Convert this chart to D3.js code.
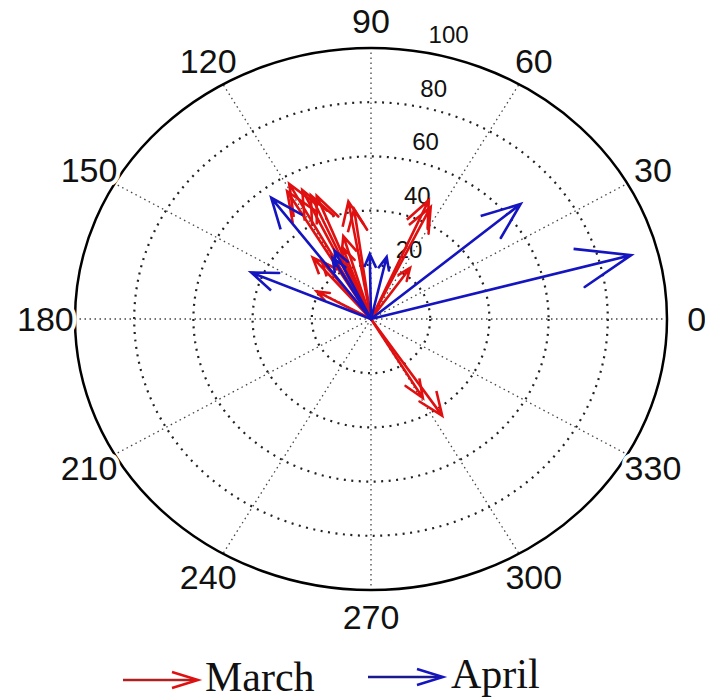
<!DOCTYPE html>
<html>
<head>
<meta charset="utf-8">
<script src="https://cdn.jsdelivr.net/npm/d3@7"></script>
<style>
  html, body { margin: 0; padding: 0; background: #fff; }
  svg { display: block; }
</style>
</head>
<body>
<div id="chart"></div>
<script>
// compass data: [angle in degrees, magnitude]
const marchAngles = [119, 121, 116, 112, 114, 100, 98, 107, 110, 131, 128, 151, 55, 66, 64, 304, 301];
const marchValues = [57, 55, 53, 49, 50, 44, 41, 32, 28, 30, 27, 21, 23, 48, 46, 43, 34];
const aprilAngles = [15, 40, 157, 127, 116, 120, 91, 77];
const aprilValues = [91, 66, 44, 56, 28, 26, 24, 23.5];

const ringTicks = [20, 40, 60, 80];
const rhoLabels = [20, 40, 60, 80, 100];
const angleTicks = [0, 30, 60, 90, 120, 150, 180, 210, 240, 270, 300, 330];
const rMax = 100;

const W = 705, H = 700;
const cx = 371, cy = 319, rx = 296, ry = 271;

const svg = d3.select("#chart").append("svg")
    .attr("width", W)
    .attr("height", H);

// scales (the picture is a bit stretched sideways)
const x = d3.scaleLinear().domain([-rMax, rMax]).range([cx - rx, cx + rx]);
const y = d3.scaleLinear().domain([-rMax, rMax]).range([cy + ry, cy - ry]);

const rad = d => d * Math.PI / 180;

// dotted rings
svg.selectAll(".ring")
    .data(ringTicks)
    .enter().append("ellipse")
    .attr("class", "ring")
    .attr("cx", x(0))
    .attr("cy", y(0))
    .attr("rx", d => x(d) - x(0))
    .attr("ry", d => y(0) - y(d))
    .attr("fill", "none")
    .attr("stroke", "#222")
    .attr("stroke-width", 2.2)
    .attr("stroke-dasharray", "2,5.5");

// dotted spokes every 30 degrees
svg.selectAll(".spoke")
    .data(angleTicks)
    .enter().append("line")
    .attr("class", "spoke")
    .attr("x1", x(0))
    .attr("y1", y(0))
    .attr("x2", d => x(rMax * Math.cos(rad(d))))
    .attr("y2", d => y(rMax * Math.sin(rad(d))))
    .attr("stroke", "#444")
    .attr("stroke-width", 1.3)
    .attr("stroke-dasharray", "1.5,3.5");

// solid outer circle
svg.append("ellipse")
    .attr("cx", x(0))
    .attr("cy", y(0))
    .attr("rx", x(rMax) - x(0))
    .attr("ry", y(0) - y(rMax))
    .attr("fill", "none")
    .attr("stroke", "#000")
    .attr("stroke-width", 2.5);

// radius labels along ~82 deg
const c82 = Math.cos(rad(82)), s82 = Math.sin(rad(82));
svg.selectAll(".rho")
    .data(rhoLabels)
    .enter().append("text")
    .attr("class", "rho")
    .attr("x", d => x((d + 1) * c82) + 16)
    .attr("y", d => y((d + 1) * s82) - 5)
    .attr("font-family", "Liberation Sans, Arial, sans-serif")
    .attr("font-size", 24)
    .attr("fill", "#111")
    .text(d => d);

// angle labels
svg.selectAll(".ang")
    .data(angleTicks)
    .enter().append("text")
    .attr("class", "ang")
    .attr("x", d => x(1.1 * rMax * Math.cos(rad(d))))
    .attr("y", d => y(1.1 * rMax * Math.sin(rad(d))))
    .attr("text-anchor", "middle")
    .attr("dominant-baseline", "central")
    .attr("font-family", "Liberation Sans, Arial, sans-serif")
    .attr("font-size", 34)
    .attr("fill", "#111")
    .attr("stroke", "#fff")
    .attr("stroke-width", 8)
    .attr("paint-order", "stroke")
    .text(d => d);

// compass arrows, MATLAB style head: 0 -> tip -> (.8,.08) -> tip -> (.8,-.08)
const line = d3.line().x(p => x(p[0])).y(p => y(p[1]));
function arrowPoints(a, r) {
    const c = Math.cos(rad(a)), s = Math.sin(rad(a));
    const tip = [r * c, r * s];
    const h1 = [0.8 * r * c - 0.08 * r * s, 0.8 * r * s + 0.08 * r * c];
    const h2 = [0.8 * r * c + 0.08 * r * s, 0.8 * r * s - 0.08 * r * c];
    return [[0, 0], tip, h1, tip, h2];
}

function drawSeries(angles, values, color, cls) {
    const data = angles.map((a, i) => ({ a: a, r: values[i] }));
    svg.selectAll("." + cls)
        .data(data)
        .enter().append("path")
        .attr("class", cls)
        .attr("d", d => line(arrowPoints(d.a, d.r)))
        .attr("fill", "none")
        .attr("stroke", color)
        .attr("stroke-width", 2.6)
        .attr("stroke-linejoin", "miter")
        .attr("stroke-linecap", "round");
}

drawSeries(marchAngles, marchValues, "#e01010", "march");
drawSeries(aprilAngles, aprilValues, "#1414c0", "april");

// legend
const legend = [
    { name: "March", color: "#e01010", shaft: "#b02020", x0: 123, x1: 198, ly: 680, tx: 205, ty: 691 },
    { name: "April", color: "#1414c0", shaft: "#1a1a90", x0: 368, x1: 443, ly: 677, tx: 451, ty: 688 }
];
const lg = svg.selectAll(".legend")
    .data(legend)
    .enter().append("g")
    .attr("class", "legend");
lg.append("line")
    .attr("x1", d => d.x0).attr("x2", d => d.x1 - 2)
    .attr("y1", d => d.ly).attr("y2", d => d.ly)
    .attr("stroke", d => d.shaft)
    .attr("stroke-width", 2.5);
lg.append("path")
    .attr("d", d => `M${d.x1 - 26},${d.ly - 8}L${d.x1},${d.ly}L${d.x1 - 26},${d.ly + 8}`)
    .attr("fill", "none")
    .attr("stroke", d => d.color)
    .attr("stroke-width", 2.5);
lg.append("text")
    .attr("x", d => d.tx)
    .attr("y", d => d.ty)
    .attr("font-family", "Liberation Serif, Times New Roman, serif")
    .attr("font-size", 42)
    .attr("fill", "#111")
    .text(d => d.name);
</script>
</body>
</html>
